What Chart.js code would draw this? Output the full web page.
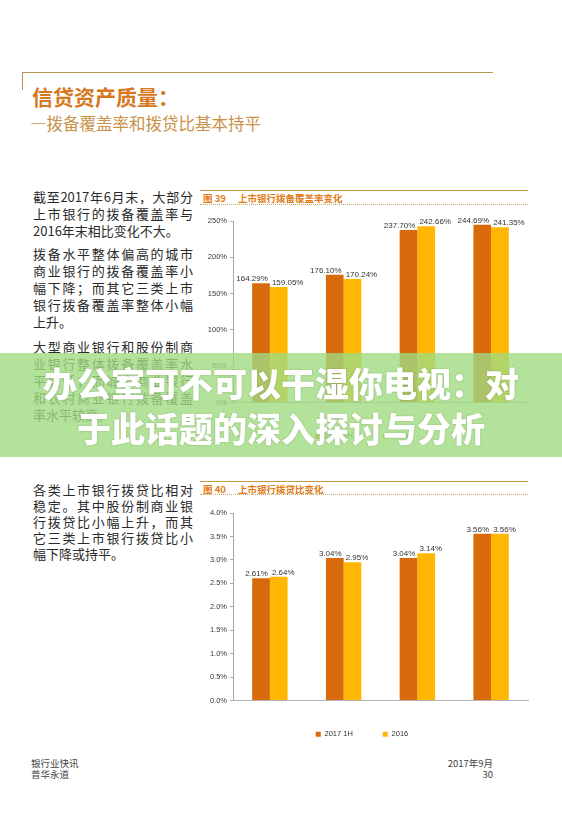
<!DOCTYPE html>
<html lang="zh-CN">
<head>
<meta charset="utf-8">
<title>信贷资产质量</title>
<script src="https://cdn.jsdelivr.net/npm/chart.js@4/dist/chart.umd.min.js"></script>
<style>
    html, body { margin: 0; padding: 0; background: #fff; }
    body {
        position: relative; width: 562px; height: 813px; overflow: hidden;
        font-family: "Noto Sans CJK SC", sans-serif; color: #333;
    }
    .abs { position: absolute; }
    .rule-top  { left: 22px; top: 72px; width: 471px; height: 0; border-top: 1px solid #b89550; }
    .rule-side { left: 22px; top: 72px; width: 0; height: 18px; border-left: 1px solid #b89550; }
    .page-title { left: 32px; top: 83px; font-size: 21px; font-weight: 700; color: #d7781e; line-height: 26px; }
    .page-sub   { left: 30px; top: 113px; font-size: 16.5px; color: #c9914a; line-height: 20px; }

    .para { left: 33px; width: 160px; font-size: 13px; line-height: 17px; color: #2a2a2a; }
    .para div { text-align: justify; text-align-last: justify; white-space: nowrap; }
    .para div.last { text-align-last: left; }

    .fig-rule  { left: 200px; width: 328px; height: 0; border-top: 1.5px solid #c49a45; }
    .fig-title { left: 203px; font-size: 9.5px; font-weight: 700; color: #e07b17; line-height: 12px; white-space: nowrap; }
    .fig-title span { display: inline-block; width: 35px; }
    .fig-dots  { left: 200px; width: 328px; height: 0; border-top: 1px dotted #c8a868; }

    canvas { position: absolute; }

    .banner {
        left: 0; top: 353px; width: 562px; height: 104px;
        background: rgba(160, 219, 129, 0.8);
        color: #fff; font-weight: 900; font-size: 34px; line-height: 45px;
        text-align: center; box-sizing: border-box; padding-top: 7px;
        text-shadow: 0 0 2px rgba(60, 90, 40, 0.35);
        white-space: nowrap; z-index: 5;
    }

    .foot { font-size: 9.5px; color: #444; line-height: 12px; }
</style>
</head>
<body>

<div class="abs rule-top"></div>
<div class="abs rule-side"></div>
<div class="abs page-title">信贷资产质量：</div>
<div class="abs page-sub">—拨备覆盖率和拨贷比基本持平</div>

<!-- 左栏文字 -->
<div class="abs para" style="top:188px;">
    <div>截至2017年6月末，大部分</div>
    <div>上市银行的拨备覆盖率与</div>
    <div class="last">2016年末相比变化不大。</div>
</div>
<div class="abs para" style="top:245px;">
    <div>拨备水平整体偏高的城市</div>
    <div>商业银行的拨备覆盖率小</div>
    <div>幅下降；而其它三类上市</div>
    <div>银行拨备覆盖率整体小幅</div>
    <div class="last">上升。</div>
</div>
<div class="abs para" style="top:338px;">
    <div>大型商业银行和股份制商</div>
    <div>业银行整体拨备覆盖率水</div>
    <div>平较低；而城市商业银行</div>
    <div>和农村商业银行拨备覆盖</div>
    <div class="last">率水平较高。</div>
</div>
<div class="abs para" style="top:482px; line-height:16px;">
    <div>各类上市银行拨贷比相对</div>
    <div>稳定。其中股份制商业银</div>
    <div>行拨贷比小幅上升，而其</div>
    <div>它三类上市银行拨贷比小</div>
    <div class="last">幅下降或持平。</div>
</div>

<!-- 图 39 -->
<div class="abs fig-rule" style="top:190px;"></div>
<div class="abs fig-title" style="top:192px;"><span>图 39</span>上市银行拨备覆盖率变化</div>
<div class="abs fig-dots" style="top:204px;"></div>
<canvas id="coverage-chart" width="336" height="245" style="left:196px; top:206px;"></canvas>

<!-- 图 40 -->
<div class="abs fig-rule" style="top:481px;"></div>
<div class="abs fig-title" style="top:483px;"><span>图 40</span>上市银行拨贷比变化</div>
<div class="abs fig-dots" style="top:494px;"></div>
<canvas id="loan-ratio-chart" width="336" height="251" style="left:196px; top:498px;"></canvas>

<div class="abs banner">办公室可不可以干湿你电视：对<br>于此话题的深入探讨与分析</div>

<div class="abs foot" style="left:31px; top:757px;">银行业快讯</div>
<div class="abs foot" style="left:31px; top:768px;">普华永道</div>
<div class="abs foot" style="right:69px; top:757px; text-align:right;">2017年9月</div>
<div class="abs foot" style="right:69px; top:768px; text-align:right;">30</div>

<script>
// ── 数据 ──
const CATEGORIES     = ['大型商业银行', '股份制商业银行', '城市商业银行', '农村商业银行'];
const SERIES_NAMES   = ['2017 1H', '2016'];

// 图 39 拨备覆盖率 (%)
const COVERAGE_1H    = [164.29, 176.10, 237.70, 244.69];
const COVERAGE_2016  = [159.05, 170.24, 242.66, 241.35];
const COVERAGE_TICKS = [0, 50, 100, 150, 200, 250];

// 图 40 拨贷比 (%)
const LOAN_1H        = [2.61, 3.04, 3.04, 3.56];
const LOAN_2016      = [2.64, 2.95, 3.14, 3.56];
const LOAN_TICKS     = [0, 0.5, 1.0, 1.5, 2.0, 2.5, 3.0, 3.5, 4.0];

const BAR_COLORS = ['#d96a0b', '#ffb703'];
const LATIN_FONT = '"Liberation Sans", Arial, sans-serif';

Chart.defaults.font.family = LATIN_FONT;
Chart.defaults.font.size   = 7.5;
Chart.defaults.color       = '#3a3a3a';

// ── 柱顶数值标签（两柱标签重叠时左右错开）──
const valueLabels = {
    id: 'valueLabels',
    afterDatasetsDraw(chart, args, opts) {
        const ctx = chart.ctx;
        const m0 = chart.getDatasetMeta(0);
        const m1 = chart.getDatasetMeta(1);
        ctx.save();
        ctx.font = `8px ${LATIN_FONT}`;
        ctx.fillStyle = '#333';
        ctx.textAlign = 'center';
        ctx.textBaseline = 'alphabetic';
        m0.data.forEach((bar0, i) => {
            const bar1 = m1.data[i];
            const t0 = opts.format(chart.data.datasets[0].data[i]);
            const t1 = opts.format(chart.data.datasets[1].data[i]);
            const w0 = ctx.measureText(t0).width;
            const w1 = ctx.measureText(t1).width;
            let x0 = bar0.x, x1 = bar1.x;
            const y0 = bar0.y - 2, y1 = bar1.y - 2;
            const overlap = (x0 + w0 / 2 + 4) - (x1 - w1 / 2);
            if (overlap > 0 && Math.abs(y0 - y1) < 10) {
                x0 -= overlap / 2;
                x1 += overlap / 2;
            }
            ctx.fillText(t0, x0, y0);
            ctx.fillText(t1, x1, y1);
        });
        ctx.restore();
    }
};

// ── 通用柱状图 ──
function renderBarChart(canvasId, series1, series2, ticks, tickFormat, labelFormat) {
    new Chart(document.getElementById(canvasId).getContext('2d'), {
        type: 'bar',
        data: {
            labels: CATEGORIES,
            datasets: [
                { label: SERIES_NAMES[0], data: series1, backgroundColor: BAR_COLORS[0] },
                { label: SERIES_NAMES[1], data: series2, backgroundColor: BAR_COLORS[1] }
            ]
        },
        options: {
            responsive: false,
            animation: false,
            categoryPercentage: 0.48,
            barPercentage: 1.0,
            layout: { padding: { top: 15, right: 4, bottom: 1, left: 0 } },
            plugins: {
                legend: {
                    position: 'bottom',
                    labels: { boxWidth: 5, boxHeight: 5, padding: 30, color: '#333', font: { size: 7.5 } }
                },
                tooltip: { enabled: false },
                valueLabels: { format: labelFormat }
            },
            scales: {
                x: {
                    grid: { display: false },
                    border: { display: true, color: '#b5b5b5' },
                    ticks: { padding: 6, color: '#333', font: { family: '"Noto Sans CJK SC", sans-serif', size: 8.5 } },
                    afterFit: s => { s.height = 0; }
                },
                y: {
                    min: ticks[0],
                    max: ticks[ticks.length - 1],
                    grid: { drawOnChartArea: false, drawTicks: true, tickLength: 3, color: '#a8a8a8' },
                    border: { display: true, color: '#a8a8a8' },
                    ticks: { padding: 3, callback: tickFormat },
                    afterBuildTicks: s => { s.ticks = ticks.map(v => ({ value: v })); },
                    afterFit: s => { s.width = 37; }
                }
            }
        },
        plugins: [valueLabels]
    });
}

renderBarChart('coverage-chart', COVERAGE_1H, COVERAGE_2016, COVERAGE_TICKS,
    v => `${v}%`, v => `${v.toFixed(2)}%`);
renderBarChart('loan-ratio-chart', LOAN_1H, LOAN_2016, LOAN_TICKS,
    v => `${Number(v).toFixed(1)}%`, v => `${v.toFixed(2)}%`);
</script>
</body>
</html>
